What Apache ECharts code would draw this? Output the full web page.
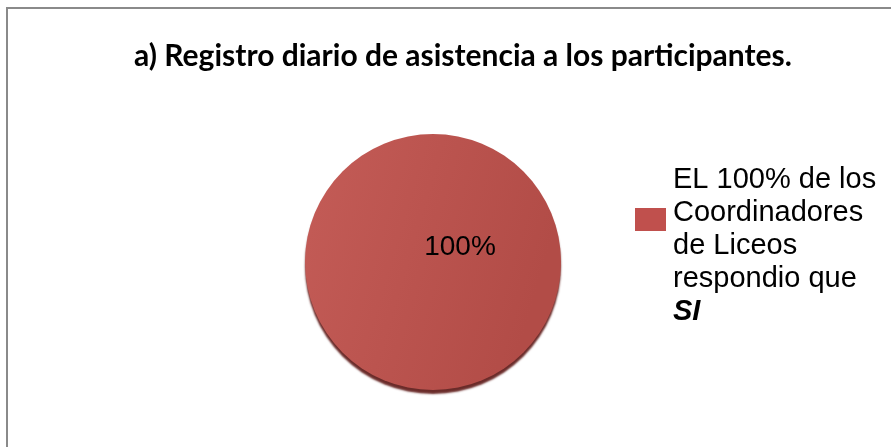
<!DOCTYPE html>
<html>
<head>
<meta charset="utf-8">
<script src="https://cdn.jsdelivr.net/npm/echarts@6/dist/echarts.min.js"></script>
<style>html,body{margin:0;padding:0;background:#fff}#c{width:891px;height:447px}</style>
</head>
<body>
<div id="c"></div>
<script>
var titleText = 'a) Registro diario de asistencia a los participantes.';
var categories = ['EL 100% de los\nCoordinadores\nde Liceos\nrespondio que'];
var boldTail = 'SI';
var values = [100];
var labels = ['100%'];

var chart = echarts.init(document.getElementById('c'));
chart.setOption({
  animation: false,
  title: {
    text: titleText,
    left: 458, top: 36, textAlign: 'center',
    textStyle: { fontFamily: 'Lato', fontWeight: 'bold', fontSize: 30, color: '#000' }
  },
  legend: {
    data: categories.map(function (c) { return { name: c, itemStyle: { color: '#C0504D' } }; }),
    orient: 'vertical',
    left: 630, top: 160,
    itemWidth: 31, itemHeight: 23,
    itemGap: 0,
    icon: 'rect',
    formatter: function (n) {
      return n.split('\n').map(function (l) { return '{a|' + l + '}'; }).join('\n') + '\n{b|' + boldTail + '}';
    },
    textStyle: {
      padding: [52, 0, 0, 2],
      rich: {
        a: { fontFamily: 'Liberation Sans', fontSize: 29, lineHeight: 33, color: '#000' },
        b: { fontFamily: 'Liberation Sans', fontSize: 29, lineHeight: 33, fontWeight: 'bold', fontStyle: 'italic', color: '#000' }
      }
    }
  },
  graphic: [{
    type: 'rect', silent: true, z: -1,
    shape: { x: 7, y: 8, width: 900, height: 460 },
    style: { fill: 'none', stroke: '#8a8a8a', lineWidth: 2 }
  }],
  series: [{
    type: 'pie',
    center: [433, 262],
    radius: [0, 128],
    startAngle: 90,
    data: categories.map(function (c, i) { return { name: c, value: values[i] }; }),
    itemStyle: {
      color: {
        type: 'linear', x: 0, y: 0, x2: 1, y2: 0.3,
        colorStops: [{ offset: 0, color: '#C45C57' }, { offset: 1, color: '#B24C47' }]
      },
      shadowColor: 'rgba(90,20,18,0.9)', shadowBlur: 2, shadowOffsetY: 4
    },
    label: {
      show: true, position: 'center',
      formatter: function (p) { return labels[p.dataIndex]; },
      offset: [27, -15],
      fontFamily: 'Liberation Sans', fontSize: 28, color: '#000'
    },
    labelLine: { show: false },
    emphasis: { disabled: true }
  }]
});
</script>
</body>
</html>
